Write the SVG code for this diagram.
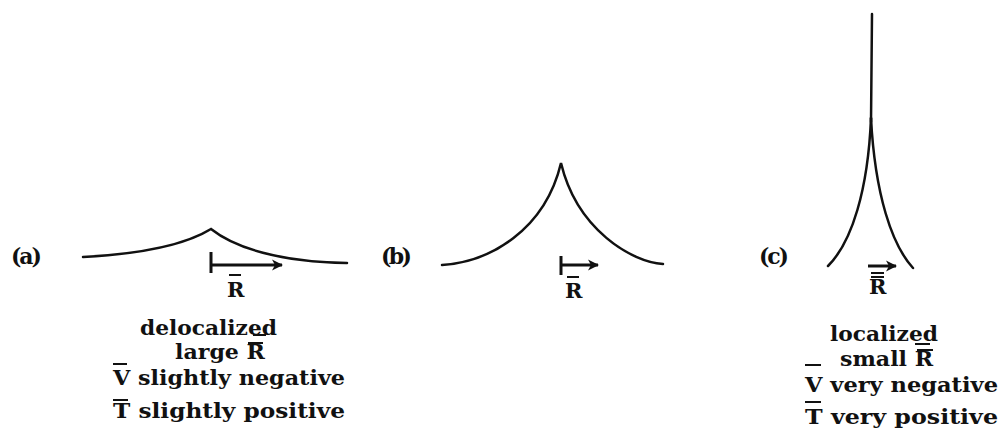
<svg xmlns="http://www.w3.org/2000/svg" width="1000" height="428" viewBox="0 0 1000 428">
<style>
.t{font-family:"DejaVu Serif","Liberation Serif",serif;font-weight:bold;font-size:21px;fill:#111}
.lbl{font-family:"DejaVu Serif","Liberation Serif",serif;font-weight:bold;font-size:22px;fill:#111}
.c{fill:none;stroke:#111;stroke-width:2.5;stroke-linecap:round}
.bar{stroke:#111;stroke-width:2}
.ar{fill:none;stroke:#111;stroke-width:3}
</style>
<defs>
<marker id="ah" markerWidth="14" markerHeight="14" refX="11" refY="7" orient="auto" markerUnits="userSpaceOnUse">
<path d="M1,1.5 L12,7 L1,12.5 L4,7 Z" fill="#111"/>
</marker>
</defs>
<rect width="1000" height="428" fill="#fff"/>

<g id="panel-a">
<text class="lbl" x="11" y="264" textLength="31">(a)</text>
<path class="c" d="M83,257 C140,254 185,245 211,229 C235,248 280,262 347,263"/>
<line class="ar" x1="211" y1="252" x2="211" y2="273"/>
<line class="ar" x1="211" y1="265" x2="282" y2="265" marker-end="url(#ah)"/>
<text class="t" x="227" y="297">R</text>
<line class="bar" x1="229" y1="275" x2="241" y2="275"/>
<text class="t" x="140" y="335" textLength="137" lengthAdjust="spacingAndGlyphs">delocalized</text>
<line class="bar" x1="253" y1="335" x2="266" y2="335"/>
<text class="t" x="175" y="359" textLength="90" lengthAdjust="spacingAndGlyphs">large R</text>
<line class="bar" x1="248" y1="343" x2="263" y2="343"/>
<text class="t" x="113" y="385" textLength="232" lengthAdjust="spacingAndGlyphs">V slightly negative</text>
<line class="bar" x1="113" y1="364" x2="127" y2="364"/>
<text class="t" x="113" y="418" textLength="232" lengthAdjust="spacingAndGlyphs">T slightly positive</text>
<line class="bar" x1="113" y1="400" x2="128" y2="400"/>
</g>

<g id="panel-b">
<text class="lbl" x="381" y="264" textLength="31">(b)</text>
<path class="c" d="M442,265 C490,262 545,230 561,163 C577,230 632,262 663,264"/>
<line class="ar" x1="561" y1="256" x2="561" y2="275"/>
<line class="ar" x1="561" y1="265" x2="598" y2="265" marker-end="url(#ah)"/>
<text class="t" x="565" y="298">R</text>
<line class="bar" x1="567" y1="277" x2="579" y2="277"/>
</g>

<g id="panel-c">
<text class="lbl" x="759" y="264" textLength="30">(c)</text>
<path class="c" d="M872,14 L871,122"/>
<path class="c" d="M871,118 C868,190 852,242 828,266"/>
<path class="c" d="M871,118 C875,195 892,245 913,268"/>
<line class="ar" x1="868" y1="266" x2="896" y2="266" marker-end="url(#ah)"/>
<text class="t" x="869" y="294">R</text>
<line class="bar" x1="871" y1="273" x2="884" y2="273"/>
<line class="bar" x1="871" y1="277" x2="884" y2="277"/>
<text class="t" x="830" y="341" textLength="108" lengthAdjust="spacingAndGlyphs">localized</text>
<line class="bar" x1="915" y1="344" x2="930" y2="344"/>
<text class="t" x="840" y="366" textLength="93" lengthAdjust="spacingAndGlyphs">small R</text>
<line class="bar" x1="917" y1="350" x2="933" y2="350"/>
<text class="t" x="805" y="392" textLength="193" lengthAdjust="spacingAndGlyphs">V very negative</text>
<line class="bar" x1="805" y1="365" x2="821" y2="365"/>
<text class="t" x="805" y="424" textLength="193" lengthAdjust="spacingAndGlyphs">T very positive</text>
<line class="bar" x1="805" y1="402" x2="821" y2="402"/>
</g>
</svg>
